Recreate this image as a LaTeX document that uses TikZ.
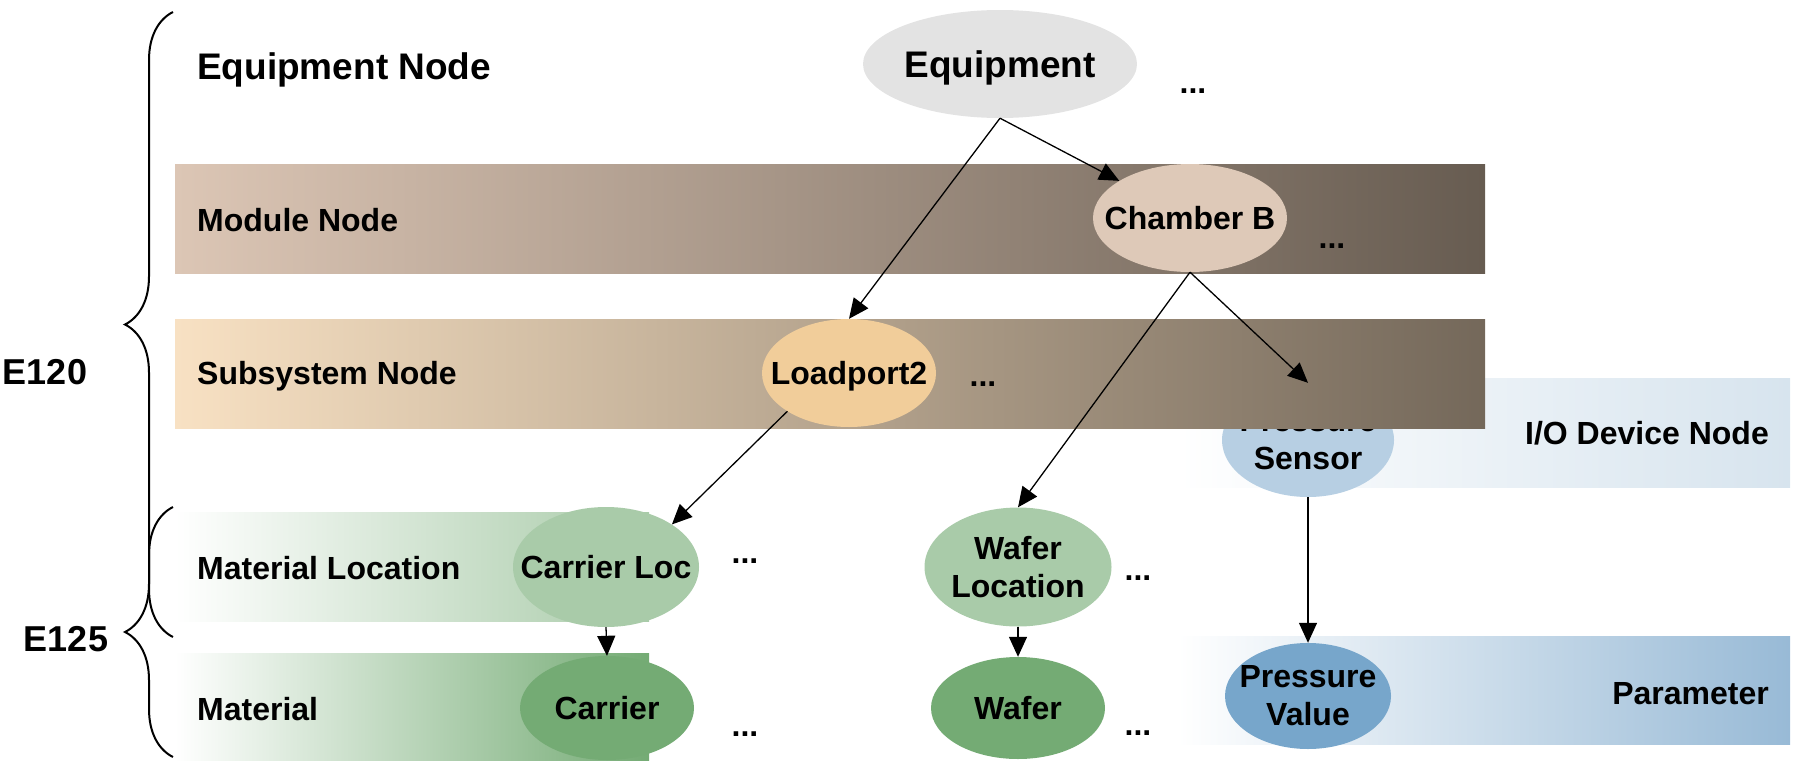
\documentclass[tikz,border=0pt]{standalone}
\usepackage{fontspec}
\setmainfont{Liberation Sans}
\usetikzlibrary{shapes.geometric,arrows.meta,decorations.pathreplacing}
\definecolor{eqgray}{HTML}{E3E3E3}
\definecolor{chtan}{HTML}{DEC9B8}
\definecolor{lppeach}{HTML}{F1CD9A}
\definecolor{modL}{HTML}{DCC6B5}
\definecolor{modR}{HTML}{675C51}
\definecolor{subL}{HTML}{F8E1C3}
\definecolor{subR}{HTML}{74685A}
\definecolor{lgreen}{HTML}{A9CBA9}
\definecolor{dgreen}{HTML}{74AB74}
\definecolor{lblue}{HTML}{B7CFE3}
\definecolor{dblue}{HTML}{77A6CB}
\definecolor{ioR}{HTML}{D7E4EE}
\definecolor{parR}{HTML}{98BAD6}
\newcommand{\tlines}[2]{\vtop{\baselineskip=38pt\lineskiplimit=0pt\hbox to 0pt{\hss#1\hss}\hbox to 0pt{\hss#2\hss}}}
\begin{document}
\begin{tikzpicture}[x=1pt,y=-1pt,
  fbig/.style={font=\fontsize{32}{38}\selectfont\bfseries},
  ell/.style={ellipse, inner sep=0pt, fbig},
  oneline/.style={text height=23pt, text depth=0pt},
  lbl/.style={anchor=west, inner sep=0pt, fbig, text height=23pt, text depth=0pt},
  rlbl/.style={lbl, anchor=east},
  dotlbl/.style={anchor=base, inner sep=0pt, fbig},
  arr/.style={line width=1.3pt, -{Triangle[length=20pt,width=18pt]}},
  brc/.style={decorate, decoration={brace, amplitude=48pt}, line width=2pt},
]
\useasboundingbox (0,0) rectangle (1795,760);
% bands
\shade[left color=modL, right color=modR] (175,164) rectangle (1485,273);
\shade[left color=white, right color=ioR] (1178,378) rectangle (1790,487);
\shade[left color=white, right color=parR] (1178,636) rectangle (1790,744);
\shade[left color=white, right color=lgreen] (175,512) rectangle (649,621);
\shade[left color=white, right color=dgreen] (175,653) rectangle (649,760);
% pressure sensor (partly hidden by subsystem band)
\node[ell, fill=lblue, minimum width=172pt, minimum height=114pt] (ps) at (1308,440) {\tlines{Pressure}{Sensor}};
\shade[left color=subL, right color=subR] (175,319) rectangle (1485,428);
% ellipses
\node[ell, oneline, fill=eqgray, minimum width=274pt, minimum height=108pt, font=\fontsize{37}{44}\selectfont\bfseries, text height=26.5pt] (eq) at (1000,64) {\makebox[0pt]{Equipment}};
\node[ell, oneline, fill=chtan, minimum width=194pt, minimum height=108pt] (chb) at (1190,218) {\makebox[0pt]{Chamber B}};
\node[ell, oneline, fill=lppeach, minimum width=174pt, minimum height=108pt] (lp) at (849,373) {\makebox[0pt]{Loadport2}};
\node[ell, oneline, fill=lgreen, minimum width=186pt, minimum height=120pt] (cl) at (606,567) {\makebox[0pt]{Carrier Loc}};
\node[ell, fill=lgreen, minimum width=187pt, minimum height=119pt] (wl) at (1018,567) {\tlines{Wafer}{Location}};
\node[ell, oneline, fill=dgreen, minimum width=174pt, minimum height=104pt] (ca) at (607,708) {\makebox[0pt]{Carrier}};
\node[ell, oneline, fill=dgreen, minimum width=174pt, minimum height=102pt] (wa) at (1018,708) {\makebox[0pt]{Wafer}};
\node[ell, fill=dblue, minimum width=166pt, minimum height=106pt] (pv) at (1308,696) {\tlines{Pressure}{Value}};
% labels
\node[lbl, font=\fontsize{37}{44}\selectfont\bfseries, text height=26.5pt] (leq) at (197,66) {Equipment Node};
\node[lbl] (lmod) at (197,220) {Module Node};
\node[lbl] (lsub) at (197,373) {Subsystem Node};
\node[lbl] (lml) at (197,568) {Material Location};
\node[lbl] (lmat) at (197,709) {Material};
\node[rlbl] (lio) at (1769,433) {I/O Device Node};
\node[rlbl] (lpar) at (1769,693) {Parameter};
% dots
\node[dotlbl] (d1) at (1193,93) {...};
\node[dotlbl] (d2) at (1332,248) {...};
\node[dotlbl] (d3) at (983,386) {...};
\node[dotlbl] (d4) at (745,563) {...};
\node[dotlbl] (d5) at (1138,580) {...};
\node[dotlbl] (d6) at (745,736) {...};
\node[dotlbl] (d7) at (1138,735) {...};
% arrows
\draw[arr] (eq.south) -- (chb);
\draw[arr] (eq.south) -- (lp.north);
\draw[arr] (chb.south) -- (wl.north);
\draw[arr] (chb.south) -- (ps.north);
\draw[arr] (lp.south west) -- (cl.north east);
\draw[arr] (cl.south) -- (ca.north);
\draw[arr] (wl.south) -- (wa.north);
\draw[arr] (ps.south) -- (pv.north);
% braces
\coordinate (b1s) at (173,637);
\coordinate (b1e) at (173,12);
\coordinate (b2s) at (173,757);
\coordinate (b2e) at (173,507);
\draw[brc] (b1s) -- (b1e);
\draw[brc] (b2s) -- (b2e);
\node[inner sep=0pt, font=\fontsize{36}{43}\selectfont\bfseries, text height=26pt, text depth=0pt] (e120) at (45,371) {E120};
\node[inner sep=0pt, font=\fontsize{36}{43}\selectfont\bfseries, text height=26pt, text depth=0pt] (e125) at (66,638) {E125};
\end{tikzpicture}
\end{document}
